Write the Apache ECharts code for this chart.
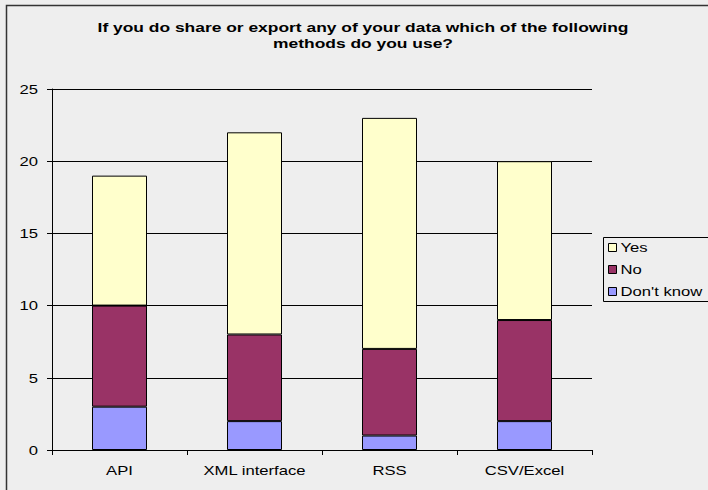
<!DOCTYPE html>
<html><head><meta charset="utf-8">
<script src="https://cdn.jsdelivr.net/npm/echarts@6/dist/echarts.min.js"></script>
<style>html,body{margin:0;padding:0;background:#EEEEEE;}#c{width:708px;height:490px;}</style>
</head><body><div id="c"></div>
<script>
var titleLines = ['If you do share or export any of your data which of the following', 'methods do you use?'];
var categories = ['API', 'XML interface', 'RSS', 'CSV/Excel'];
var dontKnow = [3, 2, 1, 2];
var no = [7, 6, 6, 7];
var yes = [9, 14, 16, 11];
var yTicks = [0, 5, 10, 15, 20, 25];

var chart = echarts.init(document.getElementById('c'), null, { renderer: 'svg' });
var font = 'Arial, "Liberation Sans", sans-serif';
function bar(name, data, color) {
  return {
    name: name, type: 'bar', stack: 'total', data: data, barWidth: 55,
    itemStyle: { color: color, borderColor: '#000', borderWidth: 1 },
    emphasis: { disabled: true }, animation: false
  };
}
var titleStyle = { fontFamily: font, fontSize: 13, fontWeight: 'bold', fill: '#000', align: 'center', verticalAlign: 'middle' };
chart.setOption({
  backgroundColor: '#EEEEEE',
  animation: false,
  graphic: [
    { type: 'rect', shape: { x: 6.5, y: 5.5, width: 760, height: 520 }, style: { fill: 'none', stroke: '#333', lineWidth: 1.5 }, silent: true },
    { type: 'rect', shape: { x: 603.5, y: 237.5, width: 140, height: 64 }, style: { fill: '#EEEEEE', stroke: '#000', lineWidth: 1 }, silent: true, z: 1 },
    { type: 'text', x: 363, y: 27, style: Object.assign({ text: titleLines[0] }, titleStyle), silent: true },
    { type: 'text', x: 363, y: 43, style: Object.assign({ text: titleLines[1] }, titleStyle), silent: true }
  ],
  legend: {
    orient: 'vertical', left: 608, top: 241, itemGap: 9,
    itemWidth: 8, itemHeight: 8, icon: 'rect', padding: 0,
    data: ['Yes', 'No', "Don't know"],
    textStyle: { fontFamily: font, fontSize: 13, color: '#000', padding: [0, 0, 0, -1] },
    itemStyle: { borderColor: '#000', borderWidth: 1 },
    z: 5
  },
  grid: { left: 52, right: 116, top: 89, bottom: 40, containLabel: false },
  xAxis: {
    type: 'category', data: categories,
    axisLine: { lineStyle: { color: '#000', width: 1 } },
    axisTick: { show: true, length: 5, alignWithLabel: false, lineStyle: { color: '#000' } },
    axisLabel: { fontFamily: font, fontSize: 13, color: '#000', margin: 14 }
  },
  yAxis: {
    type: 'value', min: 0, max: 25, interval: 5,
    axisLine: { show: true, lineStyle: { color: '#000', width: 1 } },
    axisTick: { show: true, length: 5, lineStyle: { color: '#000' } },
    axisLabel: { fontFamily: font, fontSize: 13, color: '#000', margin: 14,
      formatter: function (v) { return yTicks.indexOf(v) >= 0 ? String(v) : ''; } },
    splitLine: { show: true, lineStyle: { color: '#000', width: 1 } }
  },
  series: [
    bar("Don't know", dontKnow, '#9999FF'),
    bar('No', no, '#993366'),
    bar('Yes', yes, '#FFFFCC')
  ]
});
chart.getZr().refreshImmediately();
// The reference's text is horizontally stretched (wide glyphs); stretch each label about its anchor.
var titleWidths = [531, 180];
var labelStretch = 1.28;
document.querySelectorAll('#c text').forEach(function (t) {
  var idx = titleLines.indexOf(t.textContent);
  var k = labelStretch;
  if (idx >= 0 && t.getComputedTextLength) {
    k = titleWidths[idx] / t.getComputedTextLength();
  }
  var ax = parseFloat(t.getAttribute('x')) || 0;
  var tr = t.getAttribute('transform') || '';
  t.setAttribute('transform', (tr + ' translate(' + ax + ' 0) scale(' + k.toFixed(3) + ' 1) translate(' + (-ax) + ' 0)').trim());
});
</script></body></html>
